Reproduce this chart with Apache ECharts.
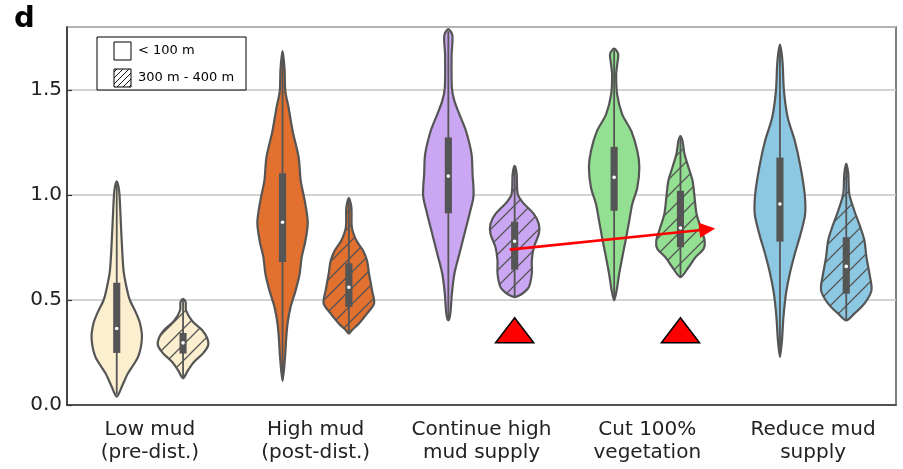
<!DOCTYPE html>
<html>
<head>
<meta charset="utf-8">
<script src="https://cdn.jsdelivr.net/npm/echarts@6/dist/echarts.min.js"></script>
<style>
  html, body { margin: 0; padding: 0; background: #ffffff; }
  #chart { width: 903px; height: 469px; }
</style>
</head>
<body>
<div id="chart"></div>
<script>
// Scenario categories along the x axis
const categories = [
  'Low mud\n(pre-dist.)',
  'High mud\n(post-dist.)',
  'Continue high\nmud supply',
  'Cut 100%\nvegetation',
  'Reduce mud\nsupply'
];

// Distance groups (hue)
const groups = ['< 100 m', '300 m - 400 m'];

// Y axis ticks
const yTicks = [0, 0.5, 1.0, 1.5];

// Violin outlines: [value, relative density width], from top to bottom
const nearProfiles = [
  [[1.065, 0], [1.04, 0.07], [1.0, 0.11], [0.80, 0.19], [0.64, 0.27], [0.56, 0.39], [0.50, 0.52],
   [0.44, 0.76], [0.39, 0.92], [0.32, 1.0], [0.23, 0.85], [0.15, 0.44], [0.087, 0.2], [0.04, 0]],
  [[1.685, 0], [1.6, 0.08], [1.495, 0.11], [1.416, 0.24], [1.305, 0.4], [1.178, 0.64], [1.068, 0.72],
   [0.973, 0.88], [0.87, 1.0], [0.783, 0.91], [0.704, 0.76], [0.625, 0.68], [0.546, 0.52],
   [0.467, 0.32], [0.388, 0.2], [0.308, 0.14], [0.229, 0.1], [0.115, 0]],
  [[1.79, 0], [1.76, 0.16], [1.669, 0.13], [1.51, 0.14], [1.448, 0.24], [1.384, 0.44], [1.305, 0.7],
   [1.195, 0.92], [1.1, 0.96], [0.997, 1.0], [0.91, 0.84], [0.815, 0.64], [0.72, 0.44],
   [0.625, 0.24], [0.53, 0.14], [0.435, 0.08], [0.403, 0]],
  [[1.697, 0], [1.672, 0.16], [1.62, 0.12], [1.574, 0.08], [1.479, 0.12], [1.384, 0.32], [1.305, 0.68],
   [1.21, 0.92], [1.131, 1.0], [1.036, 0.92], [0.957, 0.72], [0.878, 0.6], [0.799, 0.48],
   [0.72, 0.35], [0.625, 0.2], [0.546, 0.1], [0.498, 0]],
  [[1.716, 0], [1.637, 0.1], [1.495, 0.16], [1.368, 0.31], [1.258, 0.59], [1.131, 0.82], [1.005, 0.98],
   [0.91, 1.0], [0.815, 0.82], [0.72, 0.59], [0.625, 0.39], [0.53, 0.24], [0.419, 0.14],
   [0.308, 0.08], [0.229, 0]]
];

const farProfiles = [
  [[0.506, 0], [0.49, 0.1], [0.45, 0.12], [0.40, 0.36], [0.356, 0.76], [0.318, 0.96], [0.285, 1.0],
   [0.247, 0.8], [0.206, 0.44], [0.166, 0.2], [0.127, 0]],
  [[0.985, 0], [0.941, 0.1], [0.846, 0.12], [0.783, 0.3], [0.736, 0.56], [0.688, 0.72], [0.625, 0.8],
   [0.546, 0.92], [0.483, 1.0], [0.435, 0.72], [0.388, 0.4], [0.356, 0.12], [0.34, 0]],
  [[1.139, 0], [1.1, 0.08], [1.005, 0.12], [0.965, 0.32], [0.91, 0.76], [0.862, 0.96], [0.815, 0.96],
   [0.751, 0.76], [0.688, 0.68], [0.625, 0.68], [0.56, 0.56], [0.535, 0.36], [0.52, 0.16], [0.514, 0]],
  [[1.281, 0], [1.258, 0.08], [1.195, 0.16], [1.131, 0.32], [1.068, 0.48], [0.989, 0.56], [0.91, 0.64],
   [0.831, 0.84], [0.783, 0.96], [0.744, 0.92], [0.704, 0.6], [0.656, 0.32], [0.609, 0]],
  [[1.15, 0], [1.1, 0.08], [1.005, 0.12], [0.925, 0.32], [0.846, 0.56], [0.783, 0.72], [0.704, 0.8],
   [0.625, 0.92], [0.546, 1.0], [0.483, 0.72], [0.435, 0.32], [0.403, 0]]
];

// Inner box statistics: [whisker low, q1, median, q3, whisker high]
const nearBoxes = [
  [0.05, 0.248, 0.364, 0.582, 1.06],
  [0.12, 0.681, 0.87, 1.103, 1.68],
  [0.41, 0.913, 1.09, 1.274, 1.78],
  [0.50, 0.925, 1.084, 1.229, 1.69],
  [0.23, 0.778, 0.957, 1.178, 1.71]
];
const farBoxes = [
  [0.13, 0.245, 0.296, 0.343, 0.50],
  [0.34, 0.467, 0.561, 0.675, 0.98],
  [0.515, 0.644, 0.78, 0.873, 1.135],
  [0.61, 0.751, 0.843, 1.02, 1.275],
  [0.405, 0.53, 0.66, 0.799, 1.145]
];

// Highlighted scenarios (category index, marker value)
const markerPoints = [[2, 0.356], [3, 0.356]];

// Trend arrow: [category position, value] for start and end
const trendArrow = [[2.17, 0.74], [3.41, 0.84]];

const palette = ['#FBEFCF', '#E2702E', '#CBA6F2', '#93E093', '#8DC8E2'];
const EDGE = '#555555';
const FONT = 'DejaVu Sans';
const DODGE = 0.2;      // violin offset from category centre (band fraction)
const HALF = 0.152;     // maximum violin half width (band fraction)
const BOX_W = 0.043;    // inner box width (band fraction)

function hatchPattern(fill, stroke, size, lw) {
  const cv = document.createElement('canvas');
  cv.width = size; cv.height = size;
  const ctx = cv.getContext('2d');
  ctx.fillStyle = fill;
  ctx.fillRect(0, 0, size, size);
  ctx.strokeStyle = stroke;
  ctx.lineWidth = lw;
  ctx.beginPath();
  ctx.moveTo(-2, size + 2); ctx.lineTo(size + 2, -2);
  ctx.moveTo(-2, 2); ctx.lineTo(2, -2);
  ctx.moveTo(size - 2, size + 2); ctx.lineTo(size + 2, size - 2);
  ctx.stroke();
  return { image: cv, repeat: 'repeat' };
}

const hatchFills = palette.map(c => hatchPattern(c, EDGE, 16, 1.3));

const violinData = [];
categories.forEach((_, c) => { violinData.push([c, 0]); violinData.push([c, 1]); });

function renderViolin(params, api) {
  const c = api.value(0);
  const h = api.value(1);
  const base = api.coord([c, 0]);
  const band = api.size([1, 0])[0];
  const cx = base[0] + (h ? 1 : -1) * DODGE * band;
  const half = HALF * band;
  const prof = (h ? farProfiles : nearProfiles)[c];
  const box = (h ? farBoxes : nearBoxes)[c];
  const yOf = v => api.coord([c, v])[1];

  const pts = prof.map(([v, d]) => [cx + d * half, yOf(v)]);
  prof.slice(1, -1).reverse().forEach(([v, d]) => pts.push([cx - d * half, yOf(v)]));

  const bw = BOX_W * band;
  const children = [
    {
      type: 'polygon',
      shape: { points: pts, smooth: 0.3 },
      style: { fill: h ? hatchFills[c] : palette[c], stroke: EDGE, lineWidth: 2.2 }
    },
    {
      type: 'line',
      shape: { x1: cx, y1: yOf(box[0]), x2: cx, y2: yOf(box[4]) },
      style: { stroke: EDGE, lineWidth: 1.8 }
    },
    {
      type: 'rect',
      shape: { x: cx - bw / 2, y: yOf(box[3]), width: bw, height: yOf(box[1]) - yOf(box[3]) },
      style: { fill: EDGE }
    },
    {
      type: 'circle',
      shape: { cx: cx, cy: yOf(box[2]), r: 1.8 },
      style: { fill: '#ffffff' }
    }
  ];
  return { type: 'group', children: children };
}

function renderMarker(params, api) {
  const c = api.value(0);
  const v = api.value(1);
  const p = api.coord([c, v]);
  const band = api.size([1, 0])[0];
  const x = p[0] + DODGE * band;
  const w = 0.23 * band, hgt = 25;
  return {
    type: 'polygon',
    shape: { points: [[x - w / 2, p[1] + hgt / 2], [x + w / 2, p[1] + hgt / 2], [x, p[1] - hgt / 2]] },
    style: { fill: '#FF0000', stroke: '#000000', lineWidth: 1.5 }
  };
}

function renderArrow(params, api) {
  const band = api.size([1, 0])[0];
  const x0 = api.coord([0, 0])[0];
  const toPx = ([pos, v]) => [x0 + pos * band, api.coord([0, v])[1]];
  const a = toPx(trendArrow[0]);
  const b = toPx(trendArrow[1]);
  const ang = Math.atan2(b[1] - a[1], b[0] - a[0]);
  const len = 16, wid = 7.5;
  const bx = b[0] - len * Math.cos(ang), by = b[1] - len * Math.sin(ang);
  const nx = -Math.sin(ang), ny = Math.cos(ang);
  return {
    type: 'group',
    children: [
      {
        type: 'line',
        shape: { x1: a[0], y1: a[1], x2: bx + 2 * Math.cos(ang), y2: by + 2 * Math.sin(ang) },
        style: { stroke: '#FF0000', lineWidth: 2.6 }
      },
      {
        type: 'polygon',
        shape: { points: [[b[0], b[1]], [bx + nx * wid, by + ny * wid], [bx - nx * wid, by - ny * wid]] },
        style: { fill: '#FF0000' }
      }
    ]
  };
}

const chart = echarts.init(document.getElementById('chart'), null, { renderer: 'canvas' });

const legendX = 97, legendY = 37;
const option = {
  animation: false,
  backgroundColor: '#ffffff',
  textStyle: { fontFamily: FONT },
  grid: {
    left: 67, right: 7, top: 27, bottom: 64,
    show: true, borderColor: '#555555', borderWidth: 1.5, backgroundColor: 'transparent'
  },
  xAxis: {
    type: 'category',
    data: categories,
    axisLine: { lineStyle: { color: '#333333', width: 1.5 } },
    axisTick: { inside: true, alignWithLabel: true, length: 5, lineStyle: { color: '#333333', width: 1.2 } },
    axisLabel: { interval: 0, fontFamily: FONT, fontSize: 20, color: '#222222', lineHeight: 23, margin: 13 },
    splitLine: { show: false }
  },
  yAxis: {
    type: 'value',
    min: 0, max: 1.8, interval: 0.5,
    axisLine: { show: true, lineStyle: { color: '#333333', width: 1.5 } },
    axisTick: { show: true, inside: true, length: 5, lineStyle: { color: '#333333', width: 1.2 } },
    axisLabel: {
      fontFamily: FONT, fontSize: 20, color: '#222222', margin: 5, showMaxLabel: false,
      formatter: v => (yTicks.indexOf(v) >= 0 ? v.toFixed(1) : '')
    },
    splitLine: { show: true, lineStyle: { color: '#c4c4c4', width: 1.5 } }
  },
  graphic: [
    {
      type: 'text', left: 14, top: 5,
      style: { text: 'd', font: 'bold 29px "DejaVu Sans"', fill: '#000000' }
    },
    {
      type: 'rect', z: 100,
      shape: { x: legendX, y: legendY, width: 149, height: 53 },
      style: { fill: '#ffffff', stroke: '#000000', lineWidth: 1 }
    },
    {
      type: 'rect', z: 101,
      shape: { x: legendX + 17, y: legendY + 5, width: 17, height: 18 },
      style: { fill: '#ffffff', stroke: '#000000', lineWidth: 1 }
    },
    {
      type: 'text', z: 101, x: legendX + 41, y: legendY + 14,
      style: { text: groups[0], font: '13px "DejaVu Sans"', fill: '#000000', verticalAlign: 'middle' }
    },
    {
      type: 'rect', z: 101,
      shape: { x: legendX + 17, y: legendY + 32, width: 17, height: 18 },
      style: { fill: hatchPattern('#ffffff', '#000000', 6, 0.9), stroke: '#000000', lineWidth: 1 }
    },
    {
      type: 'text', z: 101, x: legendX + 41, y: legendY + 41,
      style: { text: groups[1], font: '13px "DejaVu Sans"', fill: '#000000', verticalAlign: 'middle' }
    }
  ],
  series: [
    {
      type: 'custom',
      name: 'violins',
      renderItem: renderViolin,
      data: violinData,
      encode: { x: 0 },
      clip: true,
      z: 2
    },
    {
      type: 'custom',
      name: 'arrow',
      renderItem: renderArrow,
      data: [[0, 0]],
      encode: { x: 0 },
      z: 3
    },
    {
      type: 'custom',
      name: 'markers',
      renderItem: renderMarker,
      data: markerPoints,
      encode: { x: 0, y: 1 },
      z: 4
    }
  ]
};

chart.setOption(option);
</script>
</body>
</html>
